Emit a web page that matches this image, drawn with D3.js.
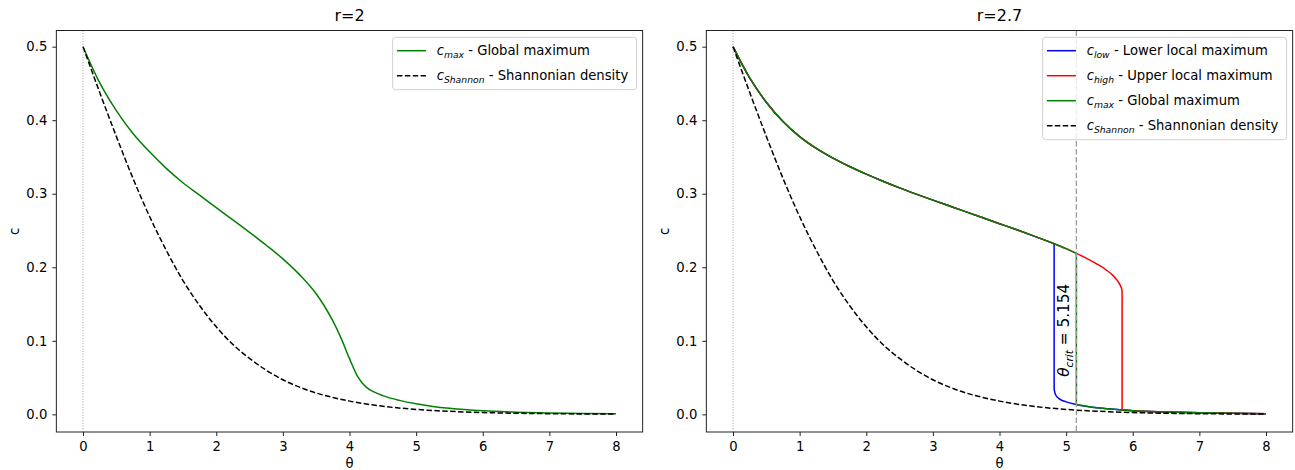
<!DOCTYPE html>
<html>
<head>
<meta charset="utf-8">
<script src="https://cdn.jsdelivr.net/npm/d3@7"></script>
<style>
  html, body { margin: 0; padding: 0; background: #fff; }
  svg text { font-family: "DejaVu Sans", sans-serif; fill: #000; }
</style>
</head>
<body>
<svg id="chart" width="1295" height="470"></svg>
<script>
// ---------------- data ----------------
const xTicks = [0, 1, 2, 3, 4, 5, 6, 7, 8];
const xTickLabels = ["0", "1", "2", "3", "4", "5", "6", "7", "8"];
const yTicks = [0.0, 0.1, 0.2, 0.3, 0.4, 0.5];
const yTickLabels = ["0.0", "0.1", "0.2", "0.3", "0.4", "0.5"];
const panelTitles = ["r=2", "r=2.7"];

// Shannonian density (both panels)
const thetaShannon = [0, 0.25, 0.5, 0.75, 1, 1.25, 1.5, 1.75, 2, 2.25, 2.5, 2.75, 3, 3.25, 3.5, 3.75, 4, 4.5, 5, 5.5, 6, 6.5, 7, 7.5, 8];
const cShannon = [0.5, 0.438, 0.378, 0.321, 0.269, 0.223, 0.182, 0.148, 0.119, 0.095, 0.076, 0.060, 0.047, 0.037, 0.029, 0.023, 0.018, 0.011, 0.0067, 0.0041, 0.0025, 0.0015, 0.0009, 0.00055, 0.00034];

// r = 2 : global maximum
const thetaMaxR2 = [0, 0.25, 0.5, 0.75, 1, 1.25, 1.5, 1.75, 2, 2.25, 2.5, 2.75, 3, 3.25, 3.5, 3.625, 3.75, 3.875, 4, 4.125, 4.25, 4.375, 4.5, 4.75, 5, 5.25, 5.5, 6, 6.5, 7, 7.5, 8];
const cMaxR2 = [0.5, 0.451, 0.413, 0.382, 0.357, 0.3345, 0.315, 0.298, 0.281, 0.2645, 0.2475, 0.230, 0.2115, 0.190, 0.164, 0.147, 0.127, 0.1033, 0.0758, 0.0508, 0.037, 0.0302, 0.0255, 0.019, 0.0143, 0.0108, 0.0082, 0.0048, 0.003, 0.0019, 0.0012, 0.0008];

// r = 2.7 : upper branch and lower branch of the local maxima
const thetaUpperR27 = [0, 0.25, 0.5, 0.75, 1, 1.25, 1.5, 1.75, 2, 2.25, 2.5, 2.75, 3, 3.25, 3.5, 3.75, 4, 4.25, 4.5, 4.75, 4.82, 5, 5.154, 5.3, 5.5, 5.6, 5.7, 5.78, 5.82, 5.835, 5.84];
const cUpperR27 = [0.5, 0.4575, 0.4245, 0.3982, 0.3777, 0.3617, 0.3485, 0.337, 0.3266, 0.317, 0.308, 0.2995, 0.2913, 0.2833, 0.2753, 0.2673, 0.2593, 0.2513, 0.2431, 0.2345, 0.232, 0.2253, 0.219, 0.2125, 0.2025, 0.1965, 0.189, 0.1805, 0.174, 0.170, 0.166];
const thetaLowerR27 = [4.82, 4.84, 4.9, 5, 5.154, 5.3, 5.5, 5.84, 6, 6.5, 7, 7.5, 8];
const cLowerR27 = [0.034, 0.027, 0.021, 0.017, 0.0135, 0.011, 0.0085, 0.006, 0.005, 0.0033, 0.0021, 0.0014, 0.0009];

// jump positions (theta) of each r = 2.7 series
const thetaLowJump = 4.82;   // c_low leaves the upper branch
const thetaCrit = 5.154;     // c_max switches branch
const thetaHighJump = 5.84;  // c_high leaves the upper branch

// ---------------- layout ----------------
const svg = d3.select("#chart");
const axTop = 30.5, axBottom = 432;
const axWidth = 586.3;
const axLefts = [56.35, 706.35];
const xDomain = [-0.4, 8.4];
const yDomain = [-0.024, 0.522];
const FS = 13.2;

const GREEN = "#008000", BLUE = "#0000ff", RED = "#ff0000";

function pts(th, c) { return th.map((t, i) => [t, c[i]]); }

function jumpSeries(jump) {
  const up = pts(thetaUpperR27, cUpperR27).filter(p => p[0] <= jump + 1e-9);
  const lo = pts(thetaLowerR27, cLowerR27).filter(p => p[0] >= jump - 1e-9);
  return [up, lo];
}

const panels = [
  {
    title: panelTitles[0],
    series: [{ parts: [pts(thetaMaxR2, cMaxR2)], color: GREEN }],
    legend: [
      { color: GREEN, dash: null, sym: "c", sub: "max", text: " - Global maximum" },
      { color: "#000", dash: "5.5,2.4", sym: "c", sub: "Shannon", text: " - Shannonian density" }
    ],
    crit: false
  },
  {
    title: panelTitles[1],
    series: [
      { parts: jumpSeries(thetaLowJump), color: BLUE },
      { parts: jumpSeries(thetaHighJump), color: RED },
      { parts: jumpSeries(thetaCrit), color: GREEN }
    ],
    legend: [
      { color: BLUE, dash: null, sym: "c", sub: "low", text: " - Lower local maximum" },
      { color: RED, dash: null, sym: "c", sub: "high", text: " - Upper local maximum" },
      { color: GREEN, dash: null, sym: "c", sub: "max", text: " - Global maximum" },
      { color: "#000", dash: "5.5,2.4", sym: "c", sub: "Shannon", text: " - Shannonian density" }
    ],
    crit: true
  }
];

panels.forEach((p, pi) => {
  const left = axLefts[pi];
  const x = d3.scaleLinear().domain(xDomain).range([left, left + axWidth]);
  const y = d3.scaleLinear().domain(yDomain).range([axBottom, axTop]);
  const g = svg.append("g");

  const line = d3.line().x(d => x(d[0])).y(d => y(d[1])).curve(d3.curveMonotoneX);

  // series
  p.series.forEach(s => {
    let d = "";
    s.parts.forEach((part, k) => {
      const seg = line(part);
      d += k === 0 ? seg : seg.replace(/^M/, "L");
    });
    g.append("path").attr("d", d).attr("fill", "none")
      .attr("stroke", s.color).attr("stroke-width", 1.5)
      .attr("stroke-linejoin", "round");
  });

  // Shannon density
  g.append("path").attr("d", line(pts(thetaShannon, cShannon)))
    .attr("fill", "none").attr("stroke", "#000").attr("stroke-width", 1.5)
    .attr("stroke-dasharray", "5.5,2.4");

  // vertical reference lines
  g.append("line").attr("x1", x(0)).attr("x2", x(0)).attr("y1", axTop).attr("y2", axBottom)
    .attr("stroke", "#a0a0a0").attr("stroke-width", 1).attr("stroke-dasharray", "1,1.65");

  if (p.crit) {
    g.append("line").attr("x1", x(thetaCrit)).attr("x2", x(thetaCrit)).attr("y1", axTop).attr("y2", axBottom)
      .attr("stroke", "#9a9a9a").attr("stroke-width", 1.3).attr("stroke-dasharray", "5.5,2.4");
    const t = g.append("text")
      .attr("transform", `translate(${x(thetaCrit - 0.105)},${y(0.051)}) rotate(-90)`)
      .attr("text-anchor", "start").style("font-size", "15.3px");
    t.append("tspan").attr("font-style", "italic").text("θ");
    t.append("tspan").attr("font-style", "italic").style("font-size", "10.7px").attr("dy", 3.6).text("crit");
    t.append("tspan").attr("dy", -3.6).text(" = " + thetaCrit.toFixed(3));
  }

  // frame
  g.append("rect").attr("x", left).attr("y", axTop).attr("width", axWidth).attr("height", axBottom - axTop)
    .attr("fill", "none").attr("stroke", "#222").attr("stroke-width", 1);

  // x axis
  const xAxis = d3.axisBottom(x).tickValues(xTicks).tickFormat((d, i) => xTickLabels[i])
    .tickSize(4).tickPadding(6);
  const xg = g.append("g").attr("transform", `translate(0,${axBottom})`).call(xAxis);
  xg.select(".domain").remove();
  xg.selectAll("line").attr("stroke", "#222");
  xg.selectAll("text").style("font-size", FS + "px").style("font-family", "DejaVu Sans").attr("fill", "#000");

  // y axis
  const yAxis = d3.axisLeft(y).tickValues(yTicks).tickFormat((d, i) => yTickLabels[i])
    .tickSize(4).tickPadding(5);
  const yg = g.append("g").attr("transform", `translate(${left},0)`).call(yAxis);
  yg.select(".domain").remove();
  yg.selectAll("line").attr("stroke", "#222");
  yg.selectAll("text").style("font-size", FS + "px").style("font-family", "DejaVu Sans").attr("fill", "#000");

  // labels
  g.append("text").attr("x", left + axWidth / 2).attr("y", 20.5).attr("text-anchor", "middle")
    .style("font-size", "16px").text(p.title);
  g.append("text").attr("x", x(4)).attr("y", 467.5).attr("text-anchor", "middle")
    .style("font-size", FS + "px").text("θ");
  g.append("text").attr("transform", `translate(${left - 37.5},${(axTop + axBottom) / 2}) rotate(-90)`)
    .attr("text-anchor", "middle").style("font-size", FS + "px").text("c");

  // legend
  const lg = g.append("g");
  const rowStep = 25;
  const firstRow = axTop + 20.2;
  const box = lg.append("rect");
  const texts = [];
  p.legend.forEach((e, i) => {
    const cy = firstRow + i * rowStep;
    const ln = lg.append("line").attr("y1", cy).attr("y2", cy)
      .attr("stroke", e.color).attr("stroke-width", 1.5);
    if (e.dash) ln.attr("stroke-dasharray", e.dash);
    const t = lg.append("text").attr("y", cy + 4.6).style("font-size", FS + "px");
    t.append("tspan").attr("font-style", "italic").text(e.sym);
    t.append("tspan").attr("font-style", "italic").style("font-size", (FS * 0.7) + "px").attr("dy", 3).text(e.sub);
    t.append("tspan").attr("dy", -3).text(e.text);
    texts.push({ ln, t });
  });
  const maxW = d3.max(texts, d => d.t.node().getComputedTextLength());
  const boxRight = left + axWidth - 6;
  const boxW = 4.3 + 29 + 10.7 + maxW + 8.4;
  const boxLeft = boxRight - boxW;
  texts.forEach(d => {
    d.ln.attr("x1", boxLeft + 4.3).attr("x2", boxLeft + 33.3);
    d.t.attr("x", boxLeft + 44);
  });
  const boxTop = axTop + 6.8;
  const boxBottom = firstRow + (p.legend.length - 1) * rowStep + 14;
  box.attr("x", boxLeft).attr("y", boxTop).attr("width", boxW).attr("height", boxBottom - boxTop)
    .attr("rx", 3).attr("fill", "#fff").attr("fill-opacity", 0.8)
    .attr("stroke", "#d0d0d0").attr("stroke-width", 1);
});
</script>
</body>
</html>
